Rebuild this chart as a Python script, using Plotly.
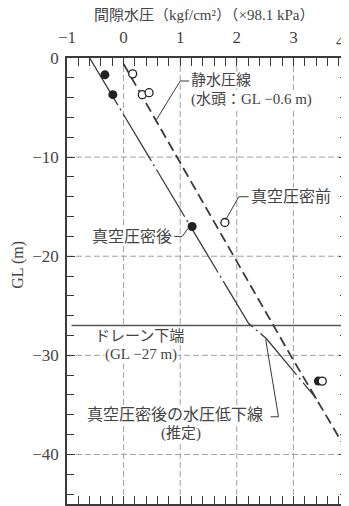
import plotly.graph_objects as go

# ---- data ----
x_tickvals = [-1, 0, 1, 2, 3]
x_ticktext = ["−1", "0", "1", "2", "3"]
y_tickvals = [0, -10, -20, -30, -40]
y_ticktext = ["0", "−10", "−20", "−30", "−40"]
x_grid = [0, 1, 2, 3]
y_grid = [-10, -20, -30, -40]
x_range = [-1, 3.947]
y_range = [-45, 0]

# hydrostatic line (head GL-0.6 m)
hydro_gl = [-0.6, -30.0, -45.0]
hydro_p = [0.0, 2.95, 4.5]

# pressure line after vacuum consolidation (incl. estimated recovery below drain)
after_line_gl = [0.0, -26.8, -28.3, -34.4]
after_line_p = [-0.6, 2.21, 2.52, 3.41]

# drain bottom level
drain_gl = [-27.0, -27.0]
drain_p = [-0.92, 3.95]

# measured points
before_p = [0.16, 0.33, 0.45, 1.79, 3.51]
before_gl = [-1.6, -3.7, -3.5, -16.6, -32.6]
after_p = [-0.33, -0.19, 1.21, 3.44]
after_gl = [-1.7, -3.7, -17.0, -32.6]

INK = "#3a3a3a"
TXT = "#444444"
GRID = "#a0a0a0"
SERIF = "Liberation Serif, DejaVu Serif, serif"
JP = "Liberation Serif, Noto Sans CJK JP, serif"

fig = go.Figure()

# grid drawn as line traces
for gx in x_grid:
    fig.add_trace(go.Scatter(x=[gx, gx], y=y_range, mode="lines",
                             line=dict(color=GRID, width=1, dash="6px,3px"), hoverinfo="skip"))
for gy in y_grid:
    fig.add_trace(go.Scatter(x=x_range, y=[gy, gy], mode="lines",
                             line=dict(color=GRID, width=1, dash="6px,3px"), hoverinfo="skip"))

fig.add_trace(go.Scatter(x=drain_p, y=drain_gl, mode="lines",
                         line=dict(color="#555", width=1.5), hoverinfo="skip"))
fig.add_trace(go.Scatter(x=hydro_p, y=hydro_gl, mode="lines",
                         line=dict(color=INK, width=1.8, dash="10px,5px"), hoverinfo="skip"))
fig.add_trace(go.Scatter(x=after_line_p, y=after_line_gl, mode="lines",
                         line=dict(color=INK, width=1.3, dash="55px,4px,2px,4px"), hoverinfo="skip"))
fig.add_trace(go.Scatter(x=after_p, y=after_gl, mode="markers",
                         marker=dict(symbol="circle", size=9, color="#222"), hoverinfo="skip"))
fig.add_trace(go.Scatter(x=before_p, y=before_gl, mode="markers",
                         marker=dict(symbol="circle", size=8, color="white",
                                     line=dict(color="#222", width=1.3)), hoverinfo="skip"))

shapes = []
# leader lines for labels (annotation geometry)
leaders = [
    ([1.158, 1.0, 0.579], [-2.32, -2.32, -6.24]),
    ([2.21, 2.035, 1.807], [-14.0, -14.0, -16.3]),
    ([0.895, 1.035, 1.14], [-18.0, -18.0, -17.2]),
    ([2.596, 2.737, 2.51], [-36.2, -36.2, -28.4]),
]
for lx, ly in leaders:
    path = "M {} {}".format(lx[0], ly[0]) + "".join(" L {} {}".format(a, b) for a, b in zip(lx[1:], ly[1:]))
    shapes.append(dict(type="path", path=path, xref="x", yref="y",
                       line=dict(color=INK, width=1)))

def ann(text, x, y, xanchor="center", size=16, **kw):
    d = dict(text=text, x=x, y=y, xref="x", yref="y", showarrow=False,
             xanchor=xanchor, yanchor="middle",
             font=dict(family=JP, size=size, color=TXT),
             bgcolor="white", borderpad=0)
    d.update(kw)
    return d

annotations = [
    ann("静水圧線", 1.175, -2.2, xanchor="left", size=15),
    ann("(水頭：GL −0.6 m)", 1.175, -4.15, xanchor="left", size=15),
    ann("真空圧密前", 2.23, -14.0, xanchor="left"),
    ann("真空圧密後", 0.88, -18.0, xanchor="right"),
    ann("ドレーン下端", 0.28, -28.0, size=15),
    ann("(GL −27 m)", 0.3, -29.9, size=15),
    ann("真空圧密後の水圧低下線", 0.91, -36.0),
    ann("(推定)", 1.02, -37.9, size=15),
    # title and axis labels
    dict(text="間隙水圧（kgf/cm²）（×98.1 kPa）", x=0.489, y=1.096, xref="paper", yref="paper",
         showarrow=False, xanchor="center", yanchor="middle",
         font=dict(family=JP, size=15, color=TXT)),
    dict(text="GL (m)", x=-0.174, y=0.537, xref="paper", yref="paper", textangle=-90,
         showarrow=False, xanchor="center", yanchor="middle",
         font=dict(family=SERIF, size=16, color=TXT)),
    dict(text="4", x=1.0, y=1.036, xref="paper", yref="paper",
         showarrow=False, xanchor="right", yanchor="middle",
         font=dict(family=SERIF, size=17, color=TXT)),
]

# the page body adds an 8px offset, so the figure is sized to fit the 349x506 window
fig.update_layout(
    width=341, height=498,
    margin=dict(l=59, r=0, t=50, b=1),
    paper_bgcolor="white", plot_bgcolor="white",
    showlegend=False,
    shapes=shapes,
    annotations=annotations,
    xaxis=dict(
        side="top", range=x_range, tickvals=x_tickvals, ticktext=x_ticktext,
        ticks="inside", ticklen=8, tickwidth=1.3, tickcolor=INK,
        minor=dict(dtick=0.2, tick0=0, ticks="inside", ticklen=8, tickwidth=1.3, tickcolor=INK, showgrid=False),
        showline=True, linecolor=INK, linewidth=1.6, mirror="ticks",
        showgrid=False, zeroline=False, ticklabelstandoff=6,
        tickfont=dict(family=SERIF, size=17, color=TXT),
    ),
    yaxis=dict(
        range=y_range, tickvals=y_tickvals, ticktext=y_ticktext,
        ticks="inside", ticklen=8, tickwidth=1.3, tickcolor=INK,
        minor=dict(dtick=2, tick0=0, ticks="inside", ticklen=7, tickwidth=1.3, tickcolor=INK, showgrid=False),
        showline=True, linecolor=INK, linewidth=1.6, mirror="ticks",
        showgrid=False, zeroline=False, ticklabelstandoff=3,
        tickfont=dict(family=SERIF, size=17, color=TXT),
    ),
)

fig.write_html("out.html")
